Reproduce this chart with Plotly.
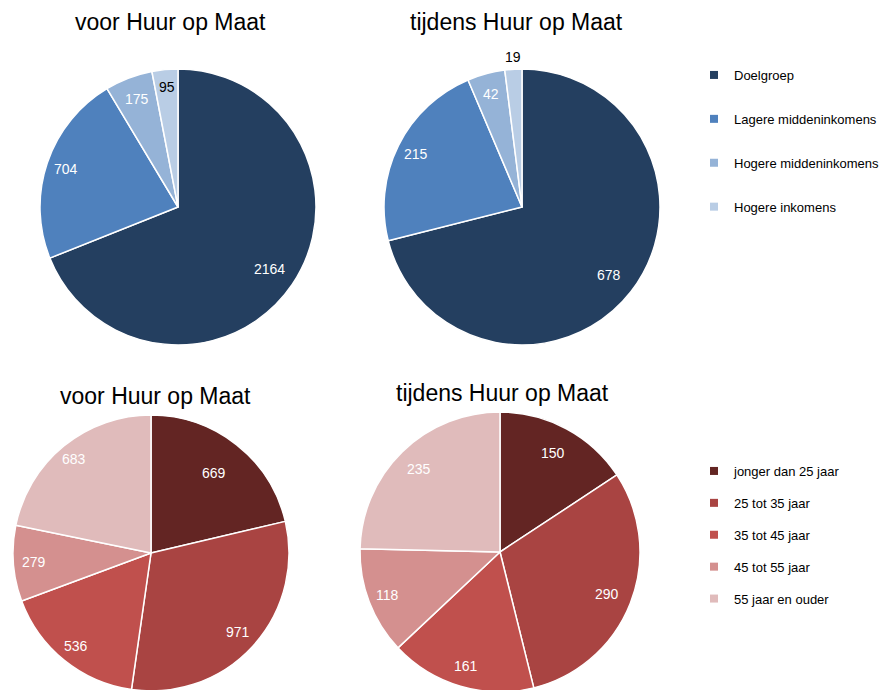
import math
import plotly.graph_objects as go

inkomen_labels = ["Doelgroep", "Lagere middeninkomens", "Hogere middeninkomens", "Hogere inkomens"]
inkomen_voor = [2164, 704, 175, 95]
inkomen_tijdens = [678, 215, 42, 19]
inkomen_colors = ["#243F60", "#4F81BD", "#95B3D7", "#B9CDE5"]

leeftijd_labels = ["jonger dan 25 jaar", "25 tot 35 jaar", "35 tot 45 jaar", "45 tot 55 jaar", "55 jaar en ouder"]
leeftijd_voor = [669, 971, 536, 279, 683]
leeftijd_tijdens = [150, 290, 161, 118, 235]
leeftijd_colors = ["#632523", "#A94442", "#C0504D", "#D4908F", "#E0BBBB"]

titles = ["voor Huur op Maat", "tijdens Huur op Maat"]

W, H = 893, 690
OFF = 8  # page body margin
FONT = "Liberation Sans, Arial, sans-serif"

fig = go.Figure()
ann = []


def add_pie(values, labels, colors, cx, cy, r, txtcolors, label_r):
    cx -= OFF
    cy -= OFF
    d = dict(x=[(cx - r) / W, (cx + r) / W], y=[1 - (cy + r) / H, 1 - (cy - r) / H])
    fig.add_trace(go.Pie(
        values=values, labels=labels, sort=False, direction="clockwise", rotation=0,
        marker=dict(colors=colors, line=dict(color="white", width=1.5)),
        textinfo="none", domain=d, showlegend=False, hoverinfo="label+value",
        automargin=False,
    ))
    total = float(sum(values))
    cum = 0.0
    for v, tc, lr in zip(values, txtcolors, label_r):
        ang = math.radians((cum + v / 2.0) / total * 360.0)
        cum += v
        px = cx + lr * r * math.sin(ang)
        py = cy - lr * r * math.cos(ang)
        ann.append(dict(text=str(v), x=px / W, y=1 - py / H, xref="paper", yref="paper",
                        xanchor="center", yanchor="middle", showarrow=False,
                        font=dict(family=FONT, size=14, color=tc)))


add_pie(inkomen_voor, inkomen_labels, inkomen_colors, 178, 207, 138,
        ["white", "white", "white", "black"], [0.8, 0.86, 0.84, 0.87])
add_pie(inkomen_tijdens, inkomen_labels, inkomen_colors, 522, 207, 138,
        ["white", "white", "white", "black"], [0.8, 0.86, 0.85, 1.09])
add_pie(leeftijd_voor, leeftijd_labels, leeftijd_colors, 151, 553, 138,
        ["white"] * 5, [0.74, 0.85, 0.87, 0.85, 0.88])
add_pie(leeftijd_tijdens, leeftijd_labels, leeftijd_colors, 500, 552, 140,
        ["white"] * 5, [0.8, 0.82, 0.85, 0.86, 0.83])

# legend entries
for i, (lab, col) in enumerate(zip(inkomen_labels, inkomen_colors)):
    fig.add_trace(go.Scatter(x=[None], y=[None], mode="markers", name=lab,
                             marker=dict(symbol="square", size=8, color=col),
                             legend="legend", legendgroup="a%d" % i, showlegend=True))
for i, (lab, col) in enumerate(zip(leeftijd_labels, leeftijd_colors)):
    fig.add_trace(go.Scatter(x=[None], y=[None], mode="markers", name=lab,
                             marker=dict(symbol="square", size=8, color=col),
                             legend="legend2", legendgroup="b%d" % i, showlegend=True))

for (tx, ty), t in zip([(170, 22), (516, 22), (155, 396), (503, 393)], titles * 2):
    ann.append(dict(text=t, x=(tx - OFF) / W, y=1 - (ty - OFF) / H, xref="paper", yref="paper",
                    xanchor="center", yanchor="middle", showarrow=False,
                    font=dict(family=FONT, size=23, color="black")))

fig.update_layout(
    width=W, height=H, margin=dict(l=0, r=0, t=0, b=0),
    paper_bgcolor="white", plot_bgcolor="white",
    xaxis=dict(visible=False), yaxis=dict(visible=False),
    annotations=ann,
    legend=dict(x=(694 - OFF) / W, y=1 - (60 - OFF) / H, xanchor="left", yanchor="top",
                font=dict(family=FONT, size=13, color="black"), tracegroupgap=24,
                itemclick=False, bgcolor="rgba(0,0,0,0)"),
    legend2=dict(x=(694 - OFF) / W, y=1 - (456 - OFF) / H, xanchor="left", yanchor="top",
                 font=dict(family=FONT, size=13, color="black"), tracegroupgap=12,
                 itemclick=False, bgcolor="rgba(0,0,0,0)"),
)

fig.write_html("out.html")
